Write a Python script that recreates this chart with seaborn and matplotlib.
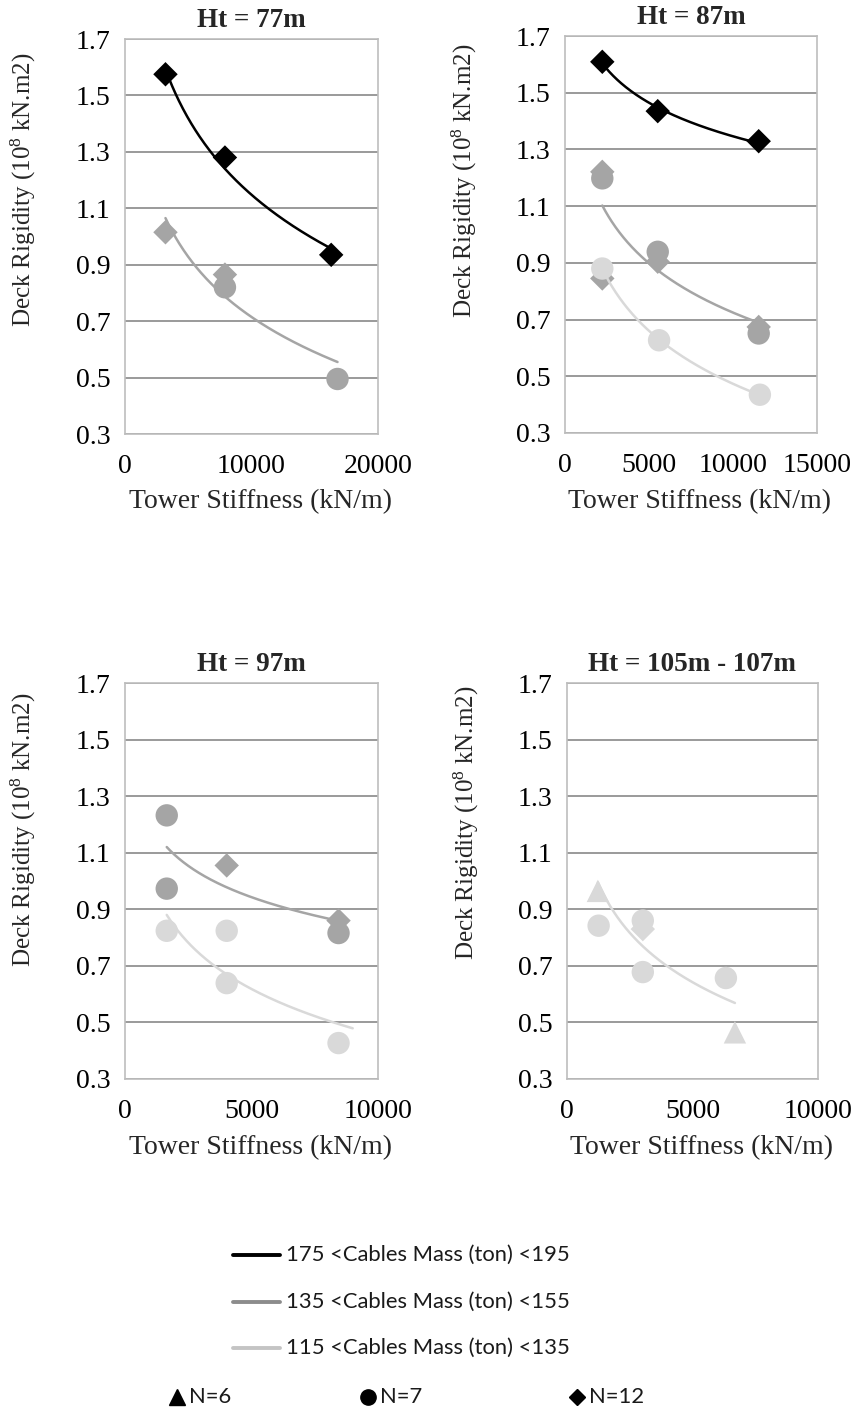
import numpy as np
import pandas as pd
import matplotlib
matplotlib.use("Agg")
import matplotlib.pyplot as plt
import seaborn as sns

# ---------------- data ----------------
panel_titles = ["Ht = 77m", "Ht = 87m", "Ht = 97m", "Ht = 105m - 107m"]
x_max = [20000, 15000, 10000, 10000]
x_ticks = [[0, 10000, 20000], [0, 5000, 10000, 15000], [0, 5000, 10000], [0, 5000, 10000]]
y_ticks = [0.3, 0.5, 0.7, 0.9, 1.1, 1.3, 1.5, 1.7]

mass_labels = ["175 <Cables Mass (ton) <195",
               "135 <Cables Mass (ton) <155",
               "115 <Cables Mass (ton) <135"]
n_labels = ["N=6", "N=7", "N=12"]
n_values = [6, 7, 12]

# Ht = 77m
p77_stiffness = [3200, 7900, 16300, 3200, 7900, 7900, 16800]
p77_rigidity = [1.575, 1.280, 0.935, 1.015, 0.865, 0.820, 0.495]
p77_mass = [0, 0, 0, 1, 1, 1, 1]
p77_n = [12, 12, 12, 12, 12, 7, 7]
p77_fit = [1, 1, 1, 1, 1, 1, 1]

# Ht = 87m
p87_stiffness = [2220, 5520, 11530, 2220, 2220, 2220, 5520, 5520, 11530, 11530, 2220, 5600, 11600]
p87_rigidity = [1.609, 1.435, 1.329, 1.221, 1.198, 0.845, 0.939, 0.904, 0.674, 0.651, 0.880, 0.627, 0.435]
p87_mass = [0, 0, 0, 1, 1, 1, 1, 1, 1, 1, 2, 2, 2]
p87_n = [12, 12, 12, 12, 7, 12, 7, 12, 12, 7, 7, 7, 7]
p87_fit = [1] * 13

# Ht = 97m
p97_stiffness = [1650, 1650, 4020, 8440, 8440, 1650, 4020, 4020, 8440]
p97_rigidity = [1.232, 0.973, 1.055, 0.860, 0.816, 0.824, 0.824, 0.639, 0.427]
p97_mass = [1, 1, 1, 1, 1, 2, 2, 2, 2]
p97_n = [7, 7, 12, 12, 7, 7, 7, 7, 7]
p97_fit = [1] * 9

# Ht = 105m - 107m
p105_stiffness = [1230, 1260, 3020, 3020, 3020, 6330, 6690]
p105_rigidity = [0.965, 0.842, 0.830, 0.860, 0.678, 0.657, 0.465]
p105_mass = [2, 2, 2, 2, 2, 2, 2]
p105_n = [6, 7, 12, 7, 7, 7, 6]
p105_fit = [1, 0, 1, 1, 1, 1, 1]

# trendline forward extension (panel index, mass index) -> kN/m
trend_forward = {(2, 2): 560}

frames = []
for i, (xs, ys, ms, ns, fs) in enumerate([
        (p77_stiffness, p77_rigidity, p77_mass, p77_n, p77_fit),
        (p87_stiffness, p87_rigidity, p87_mass, p87_n, p87_fit),
        (p97_stiffness, p97_rigidity, p97_mass, p97_n, p97_fit),
        (p105_stiffness, p105_rigidity, p105_mass, p105_n, p105_fit)]):
    frames.append(pd.DataFrame({"panel": i, "stiffness": xs, "rigidity": ys,
                                "mass": ms, "N": ns, "fit": fs}))
df = pd.concat(frames, ignore_index=True)

# ---------------- style ----------------
sns.set_style("white")
plt.rcParams["font.family"] = ["Liberation Serif", "DejaVu Serif"]
plt.rcParams["mathtext.fontset"] = "custom"
plt.rcParams["mathtext.rm"] = "Liberation Serif"
plt.rcParams["mathtext.it"] = "Liberation Serif:italic"
plt.rcParams["mathtext.bf"] = "Liberation Serif:bold"

marker_colors = {0: "#000000", 1: "#a5a5a5", 2: "#d9d9d9"}
legend_line_colors = ["#000000", "#8c8c8c", "#c4c4c4"]
marker_map = {6: "^", 7: "o", 12: "D"}
size_map = {6: 260, 7: 260, 12: 155}

W, H = 858, 1413
fig = plt.figure(figsize=(W / 100, H / 100), dpi=100)

# axes boxes in pixels: left, top, right, bottom
boxes = [(125, 39, 378, 434), (565, 36, 817, 433),
         (125, 683, 378, 1079), (567, 683, 818, 1079)]
ylabel_y = [0.618, 0.635, 0.629, 0.646]

for i, (l, t, r, b) in enumerate(boxes):
    ax = fig.add_axes([l / W, 1 - b / H, (r - l) / W, (b - t) / H])
    sub = df[df.panel == i]
    sns.scatterplot(data=sub, x="stiffness", y="rigidity", hue="mass", style="N",
                    size="N", sizes=size_map, markers=marker_map, palette=marker_colors,
                    linewidth=0, legend=False, ax=ax, zorder=3)
    for m in sorted(sub["mass"].unique()):
        s = sub[(sub["mass"] == m) & (sub["fit"] == 1)]
        coef = np.polyfit(np.log(s["stiffness"]), s["rigidity"], 1)
        xs = np.linspace(s["stiffness"].min(),
                         s["stiffness"].max() + trend_forward.get((i, m), 0), 200)
        ys = coef[0] * np.log(xs) + coef[1]
        sns.lineplot(x=xs, y=ys, color=marker_colors[m], lw=1.8, ax=ax,
                     zorder=4, estimator=None, sort=False)
    ax.set_xlim(0, x_max[i])
    ax.set_ylim(0.3, 1.7)
    ax.set_xticks(x_ticks[i])
    ax.set_xticklabels([str(v) for v in x_ticks[i]])
    ax.set_yticks(y_ticks)
    ax.set_yticklabels([f"{v:.1f}" for v in y_ticks])
    ax.tick_params(axis="both", length=0, labelsize=20, colors="#000000")
    ax.tick_params(axis="x", pad=14.5)
    ax.tick_params(axis="y", pad=10.5)
    ax.grid(axis="y", color="#9a9a9a", lw=1.4, zorder=0)
    ax.grid(axis="x", visible=False)
    ax.set_axisbelow(True)
    for sp in ax.spines.values():
        sp.set_color("#bdbdbd")
        sp.set_linewidth(1.2)
    ax.set_title(panel_titles[i], fontsize=19.5, fontweight="bold", pad=9)
    ax.set_xlabel("Tower Stiffness (kN/m)", fontsize=20, va="center")
    ax.xaxis.set_label_coords(0.535, -0.172)
    ax.set_ylabel("Deck Rigidity ($10^{8}$ kN.m2)", fontsize=18, va="center")
    ax.yaxis.set_label_coords(-0.40, ylabel_y[i])

# ---------------- legend ----------------
lg = fig.add_axes([0, 0, 1, 1])
lg.set_xlim(0, W)
lg.set_ylim(H, 0)
lg.axis("off")
leg_font = ["Lato", "DejaVu Sans"]
row_y = [1255, 1302, 1348]
for k in range(3):
    lg.plot([233, 280], [row_y[k], row_y[k]], color=legend_line_colors[k], lw=2.8,
            solid_capstyle="round")
    lg.text(286, row_y[k], mass_labels[k], fontsize=15.8, family=leg_font,
            va="center", ha="left", color="#1a1a1a")
mk_x = [177, 368, 577]
mk_size = [11, 11, 8]
for k in range(3):
    lg.plot(mk_x[k], 1397, marker=marker_map[n_values[k]], color="#000000",
            markersize=mk_size[k], linestyle="none")
    lg.text(mk_x[k] + 12, 1397, n_labels[k], fontsize=15.8, family=leg_font,
            va="center", ha="left", color="#1a1a1a")

fig.savefig("out.png", dpi=100)
